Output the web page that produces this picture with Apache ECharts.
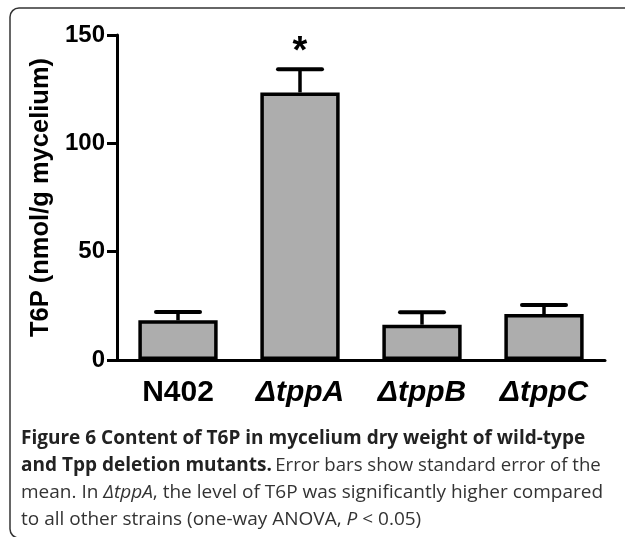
<!DOCTYPE html>
<html>
<head>
<meta charset="utf-8">
<script src="https://cdn.jsdelivr.net/npm/echarts@6/dist/echarts.min.js"></script>
<style>html,body{margin:0;padding:0;background:#fff;}#c{width:625px;height:537px;}</style>
</head>
<body>
<div id="c"></div>
<script>
var categories = ['N402', 'ΔtppA', 'ΔtppB', 'ΔtppC'];
var meanValues = [18.3, 123.5, 16.3, 21.2];
var errorTops = [22.1, 134.2, 22.0, 25.4];
var significance = ['', '*', '', ''];
var yTicks = [0, 50, 100, 150];

var chart = echarts.init(document.getElementById('c'));
var F = '"Liberation Sans", Arial, sans-serif';
var CF = '"Open Sans", sans-serif';

var errData = categories.map(function (c, i) { return [i, meanValues[i], errorTops[i], significance[i]]; });
var frameStyle = { fill: 'none', stroke: '#333', lineWidth: 1.5 };

chart.setOption({
  animation: false,
  backgroundColor: '#fff',
  grid: { left: 117, right: 20, top: 35, bottom: 177, containLabel: false },
  xAxis: {
    type: 'category',
    data: categories,
    axisLine: { lineStyle: { color: '#000', width: 3 } },
    axisTick: { show: false },
    axisLabel: {
      margin: 18,
      formatter: function (v) { return v.charAt(0) === 'Δ' ? '{i|' + v + '}' : '{n|' + v + '}'; },
      rich: {
        n: { fontFamily: F, fontWeight: 'bold', fontSize: 30, color: '#000' },
        i: { fontFamily: F, fontWeight: 'bold', fontStyle: 'italic', fontSize: 30, color: '#000' }
      }
    }
  },
  yAxis: {
    type: 'value',
    min: yTicks[0], max: yTicks[yTicks.length - 1], interval: 50,
    name: 'T6P (nmol/g mycelium)',
    nameLocation: 'middle',
    nameGap: 60,
    nameTextStyle: { fontFamily: F, fontWeight: 'bold', fontSize: 25.5, color: '#000' },
    axisLine: { show: true, lineStyle: { color: '#000', width: 3 } },
    axisTick: { show: true, length: 10, lineStyle: { color: '#000', width: 3 } },
    axisLabel: { margin: 12, fontFamily: F, fontWeight: 'bold', fontSize: 24, color: '#000' },
    splitLine: { show: false }
  },
  series: [
    {
      type: 'bar',
      data: meanValues,
      barWidth: '65%',
      itemStyle: { color: '#adadad', borderColor: '#000', borderWidth: 3.5 },
      z: 3
    },
    {
      type: 'custom',
      data: errData,
      z: 4,
      renderItem: function (params, api) {
        var x = api.value(0);
        var base = api.coord([x, api.value(1)]);
        var top = api.coord([x, api.value(2)]);
        var half = 22;
        var children = [
          { type: 'line', shape: { x1: base[0], y1: base[1], x2: top[0], y2: top[1] }, style: { stroke: '#000', lineWidth: 3.5 } },
          { type: 'line', shape: { x1: top[0] - half, y1: top[1], x2: top[0] + half, y2: top[1] }, style: { stroke: '#000', lineWidth: 4, lineCap: 'round' } }
        ];
        var s = api.value(3);
        if (s) {
          children.push({ type: 'text', x: top[0], y: top[1] + 2, style: { text: s, fontFamily: F, fontWeight: 'bold', fontSize: 38, fill: '#000', align: 'center', verticalAlign: 'bottom' } });
        }
        return { type: 'group', children: children };
      }
    }
  ],
  graphic: [
    { type: 'line', shape: { x1: 19, y1: 8, x2: 640, y2: 8 }, style: frameStyle, silent: true },
    { type: 'arc', shape: { cx: 19, cy: 17, r: 9, startAngle: Math.PI, endAngle: Math.PI * 1.5, clockwise: true }, style: frameStyle, silent: true },
    { type: 'line', shape: { x1: 10, y1: 17, x2: 10, y2: 529 }, style: frameStyle, silent: true },
    { type: 'arc', shape: { cx: 19, cy: 529, r: 9, startAngle: Math.PI * 0.5, endAngle: Math.PI, clockwise: true }, style: frameStyle, silent: true },
    { type: 'text', left: 21, top: 429, style: { text: '{b|Figure 6 Content of T6P in mycelium dry weight of wild-type}', rich: { b: { fontFamily: CF, fontWeight: 'bold', fontSize: 19, fill: '#222' } } } },
    { type: 'text', left: 21, top: 456, style: { text: '{b|and Tpp deletion mutants.} {r|Error bars show standard error of the}', rich: { b: { fontFamily: CF, fontWeight: 'bold', fontSize: 19, fill: '#222' }, r: { fontFamily: CF, fontSize: 18.6, fill: '#333' } } } },
    { type: 'text', left: 21, top: 483, style: { text: '{r|mean. In }{i|ΔtppA}{r|, the level of T6P was significantly higher compared}', rich: { i: { fontFamily: CF, fontStyle: 'italic', fontSize: 19, fill: '#333' }, r: { fontFamily: CF, fontSize: 19, fill: '#333' } } } },
    { type: 'text', left: 21, top: 510, style: { text: '{r|to all other strains (one-way ANOVA, }{i|P}{r| < 0.05)}', rich: { i: { fontFamily: CF, fontStyle: 'italic', fontSize: 19, fill: '#333' }, r: { fontFamily: CF, fontSize: 19, fill: '#333' } } } }
  ]
});
</script>
</body>
</html>
